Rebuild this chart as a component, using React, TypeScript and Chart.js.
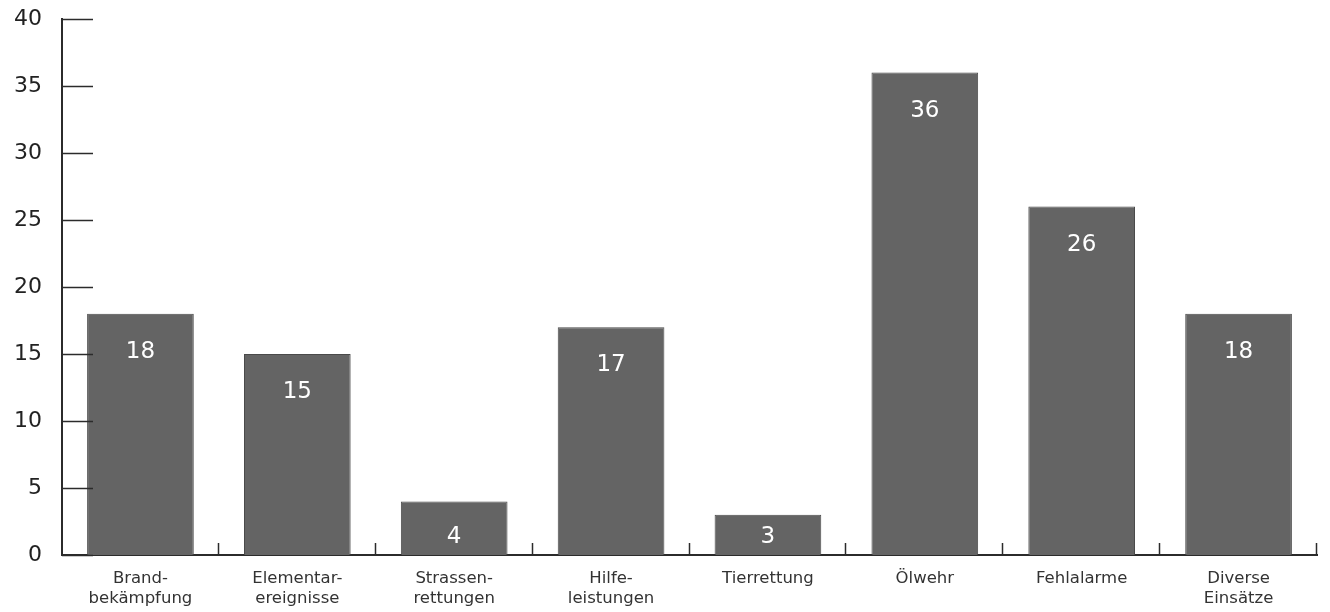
import React, { useEffect, useRef } from "react";
import { Chart, registerables } from "chart.js";

Chart.register(...registerables);

const categories: string[][] = [
  ["Brand-", "bekämpfung"],
  ["Elementar-", "ereignisse"],
  ["Strassen-", "rettungen"],
  ["Hilfe-", "leistungen"],
  ["Tierrettung"],
  ["Ölwehr"],
  ["Fehlalarme"],
  ["Diverse", "Einsätze"],
];
const values: number[] = [18, 15, 4, 17, 3, 36, 26, 18];
const yTicks: number[] = [0, 5, 10, 15, 20, 25, 30, 35, 40];

const FONT = "'DejaVu Sans', 'Open Sans', sans-serif";

const customTicks = {
  id: "customTicks",
  afterDraw(chart: any) {
    const ctx = chart.ctx;
    const x = chart.scales.x;
    const y = chart.scales.y;
    const area = chart.chartArea;
    ctx.save();
    ctx.strokeStyle = "#2b2b2b";
    ctx.lineWidth = 1.5;
    // y ticks pointing into the chart
    y.ticks.forEach((t: any) => {
      const py = Math.round(y.getPixelForValue(t.value)) + 0.5;
      ctx.beginPath();
      ctx.moveTo(area.left, py);
      ctx.lineTo(area.left + 31, py);
      ctx.stroke();
    });
    // x ticks at category boundaries, pointing up
    const n = categories.length;
    const w = (x.right - x.left) / n;
    for (let i = 0; i < n; i++) {
      const px = Math.round(x.getPixelForValue(i) + w / 2) - 0.5;
      ctx.beginPath();
      ctx.moveTo(px, area.bottom);
      ctx.lineTo(px, area.bottom - 12);
      ctx.stroke();
    }
    // bar value labels
    const meta = chart.getDatasetMeta(0);
    ctx.fillStyle = "#ffffff";
    ctx.font = `23px ${FONT}`;
    ctx.textAlign = "center";
    ctx.textBaseline = "middle";
    meta.data.forEach((bar: any, i: number) => {
      const top = bar.y;
      const bottom = bar.base;
      const cy = Math.min(top + 38, bottom - 18);
      ctx.fillText(String(values[i]), bar.x, cy);
    });
    ctx.restore();
  },
};

export default function App() {
  const ref = useRef<HTMLCanvasElement | null>(null);
  useEffect(() => {
    if (!ref.current) return;
    const chart = new Chart(ref.current, {
      type: "bar",
      data: {
        labels: categories,
        datasets: [
          {
            data: values,
            backgroundColor: "#646464",
            borderColor: "#4a4a4a",
            borderWidth: 1,
            categoryPercentage: 1,
            barPercentage: 0.68,
          },
        ],
      },
      options: {
        animation: false,
        responsive: true,
        maintainAspectRatio: false,
        layout: { padding: { top: 19, right: 13, left: 0, bottom: 0 } },
        plugins: { legend: { display: false }, tooltip: { enabled: false } },
        scales: {
          x: {
            grid: { display: false, drawTicks: false },
            border: { display: true, color: "#2b2b2b", width: 2 },
            ticks: {
              color: "#333333",
              font: { family: FONT, size: 16.5 },
              padding: 14,
              maxRotation: 0,
              autoSkip: false,
            },
            afterFit(scale: any) {
              scale.height = 57;
              scale.paddingLeft = 0;
              scale.paddingRight = 0;
            },
          },
          y: {
            min: 0,
            max: 40,
            afterBuildTicks(scale: any) {
              scale.ticks = yTicks.map((v) => ({ value: v }));
            },
            grid: { display: false, drawTicks: false },
            border: { display: true, color: "#2b2b2b", width: 2 },
            ticks: {
              color: "#222222",
              font: { family: FONT, size: 22 },
              padding: 20,
            },
            afterFit(scale: any) {
              scale.width = 62;
              scale.paddingTop = 0;
              scale.paddingBottom = 0;
            },
          },
        },
      },
      plugins: [customTicks],
    });
    return () => chart.destroy();
  }, []);
  return (
    <div style={{ position: "fixed", left: 0, top: 0, width: 1330, height: 612, background: "#fff" }}>
      <canvas ref={ref} />
    </div>
  );
}
